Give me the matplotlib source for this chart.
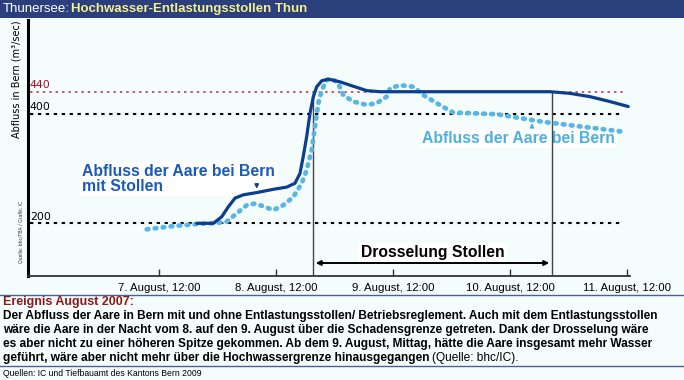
import matplotlib
matplotlib.use("Agg")
import matplotlib.pyplot as plt
from matplotlib.patches import Rectangle
from matplotlib.lines import Line2D

# ---------------- data ----------------
# x: day of August 2007 (fractional), y: discharge in m3/s
mit_x = [7.822, 7.964, 8.036, 8.092, 8.150, 8.221, 8.335, 8.477, 8.591, 8.662,
         8.705, 8.733, 8.762, 8.791, 8.819, 8.848, 8.891, 8.947, 9.047, 9.160,
         9.275, 9.389, 10.842, 11.013, 11.184, 11.355, 11.511]
mit_y = [200, 200, 212, 230, 246, 252, 256, 262, 266, 273,
         291, 322, 358, 401, 431, 449, 460, 463, 458, 450,
         442, 440, 440, 437, 431, 422, 413]

ohne_x = [7.395, 7.622, 7.850, 7.964, 8.078, 8.164, 8.250, 8.321, 8.406, 8.477,
          8.562, 8.648, 8.720, 8.762, 8.805, 8.833, 8.862, 8.891, 8.933, 8.976,
          9.032, 9.075, 9.160, 9.275, 9.360, 9.446, 9.474, 9.560, 9.674, 9.759,
          9.874, 10.015, 10.158, 10.386, 10.585, 10.785, 11.013, 11.241, 11.468]
ohne_y = [189, 195, 199, 200, 203, 218, 233, 236, 230, 224,
          233, 248, 273, 297, 334, 376, 419, 443, 461, 464,
          455, 434, 422, 416, 419, 431, 446, 452, 449, 434,
          419, 402, 401, 399, 392, 385, 379, 373, 367]

ref_levels = [200, 400]
hw_level = 440
tick_days = [7.5, 8.5, 9.5, 10.5, 11.5]
tick_labels = ["7. August, 12:00", "8. August, 12:00", "9. August, 12:00",
               "10. August, 12:00", "11. August, 12:00"]
drossel_start, drossel_end = 8.816, 10.859

W, H = 684, 380
BG = "#f5fcfc"
fig = plt.figure(figsize=(W / 100, H / 100), dpi=100, facecolor=BG)

def fy(py):
    return 1 - py / H

def fx(px):
    return px / W

# top banner
fig.patches.append(Rectangle((0, fy(18)), 1, 18 / H, transform=fig.transFigure,
                             facecolor="#2a3f7c", edgecolor="none", zorder=0))
fig.text(fx(3), fy(9), "Thunersee:", color="white", fontsize=9.5,
         family="Liberation Sans", va="center", ha="left")
fig.text(fx(71), fy(9), "Hochwasser-Entlastungsstollen Thun", color="#f4f08a",
         fontsize=9.5, fontweight="bold", family="Liberation Sans", va="center", ha="left")

# axes
ax = fig.add_axes([fx(28), fy(276), fx(630) - fx(28), (276 - 20) / H])
ax.set_facecolor(BG)
ax.set_xlim(6.38, 11.526)
ax.set_ylim(103.9, 570.8)
for s in ["top", "right"]:
    ax.spines[s].set_visible(False)
ax.spines["left"].set_linewidth(2.2)
ax.spines["left"].set_color("black")
ax.spines["bottom"].set_linewidth(1.3)
ax.spines["bottom"].set_color("#333333")
ax.set_yticks([])
ax.set_xticks(tick_days)
ax.set_xticklabels(tick_labels, fontsize=8.2, family="Liberation Sans")
ax.tick_params(axis="x", direction="in", length=5, width=1, pad=5, color="#333333")

# reference lines
ax.hlines(ref_levels, 6.40, 11.47, colors="black", linestyles=(0, (1.6, 2.2)), lw=1.5, zorder=2)
ax.hlines(hw_level, 6.40, 11.47, colors="#b03050", linestyles=(0, (1.6, 2.6)), lw=1.1, zorder=2)
for lvl, col in [(hw_level, "#a0102a"), (400, "black"), (200, "black")]:
    ax.text(6.395, lvl + 3, str(lvl), color=col, fontsize=7.8, family="DejaVu Sans",
            ha="left", va="bottom", zorder=3)

# Drosselung vertical lines
ax.vlines([drossel_start, drossel_end], 103.9, hw_level, colors="#444444", lw=1.0, zorder=3.5)

# curves
ax.plot(ohne_x, ohne_y, color="#58b6e4", lw=3.4, linestyle=(0, (0.35, 1.35)),
        dash_capstyle="round", solid_capstyle="round", zorder=4)
ax.plot(mit_x, mit_y, color="#0b3e8f", lw=2.3, zorder=5, solid_capstyle="round",
        solid_joinstyle="round")

# annotations
ax.text(6.842, 281, "Abfluss der Aare bei Bern\nmit Stollen", color="#1a5ab8",
        fontsize=11.3, fontweight="bold", family="Liberation Sans", ha="left", va="center",
        linespacing=1.0, zorder=3,
        bbox=dict(facecolor="white", edgecolor="none", pad=1.5))
ax.annotate("", xy=(8.335, 258), xytext=(8.335, 277),
            arrowprops=dict(arrowstyle="-|>", color="#0b3e8f", lw=1.0, mutation_scale=6), zorder=6)

ax.text(9.748, 354, "Abfluss der Aare bei Bern", color="#4fb0e0",
        fontsize=11.3, fontweight="bold", family="Liberation Sans", ha="left", va="center",
        zorder=3, bbox=dict(facecolor="white", edgecolor="none", pad=1.5))
ax.annotate("", xy=(10.688, 388), xytext=(10.688, 371),
            arrowprops=dict(arrowstyle="-|>", color="#4fb0e0", lw=1.0, mutation_scale=6), zorder=6)

# Drosselung Stollen
ax.text((drossel_start + drossel_end) / 2, 146, "Drosselung Stollen", color="black",
        fontsize=11.3, fontweight="bold", family="Liberation Sans", ha="center", va="center",
        zorder=6, bbox=dict(facecolor="white", edgecolor="none", pad=2))
ax.annotate("", xy=(drossel_start, 127.6), xytext=(drossel_end, 127.6),
            arrowprops=dict(arrowstyle="<|-|>", color="black", lw=1.4, mutation_scale=7), zorder=6)

# y label
fig.text(fx(17), fy(79), "Abfluss in Bern (m³/sec)", rotation=90, fontsize=7.0,
         family="DejaVu Sans", ha="center", va="center")
fig.text(fx(21), fy(232), "Quelle: bhc/TBA / Grafik: IC", rotation=90, fontsize=3.3,
         family="DejaVu Sans", ha="center", va="center", color="#333333")

# bottom text block
fig.add_artist(Line2D([0, 1], [fy(295), fy(295)], transform=fig.transFigure,
                      color="#4c5f99", lw=1.0))
fig.text(fx(3), fy(302), "Ereignis August 2007:", color="#8b1a1a", fontsize=9,
         fontweight="bold", family="Liberation Sans", ha="left", va="center")
lines = [
    "Der Abfluss der Aare in Bern mit und ohne Entlastungsstollen/ Betriebsreglement. Auch mit dem Entlastungsstollen",
    "wäre die Aare in der Nacht vom 8. auf den 9. August über die Schadensgrenze getreten. Dank der Drosselung wäre",
    "es aber nicht zu einer höheren Spitze gekommen. Ab dem 9. August, Mittag, hätte die Aare insgesamt mehr Wasser",
]
for i, ln in enumerate(lines):
    fig.text(fx(3), fy(316 + 14 * i), ln, color="black", fontsize=8.6,
             fontweight="bold", family="Liberation Sans", ha="left", va="center")
t = fig.text(fx(3), fy(358), "geführt, wäre aber nicht mehr über die Hochwassergrenze hinausgegangen",
             color="black", fontsize=8.6, fontweight="bold", family="Liberation Sans",
             ha="left", va="center")
fig.canvas.draw()
bb = t.get_window_extent()
fig.text(bb.x1 / W + 3 / W, fy(358), "(Quelle: bhc/IC).", color="black", fontsize=8.6,
         family="Liberation Sans", ha="left", va="center")
fig.add_artist(Line2D([0, 1], [fy(366), fy(366)], transform=fig.transFigure,
                      color="#4c5f99", lw=1.0))
fig.text(fx(3), fy(373), "Quellen: IC und Tiefbauamt des Kantons Bern 2009", color="black",
         fontsize=6.2, family="Liberation Sans", ha="left", va="center")

fig.savefig("out.png", dpi=100, facecolor=BG)
